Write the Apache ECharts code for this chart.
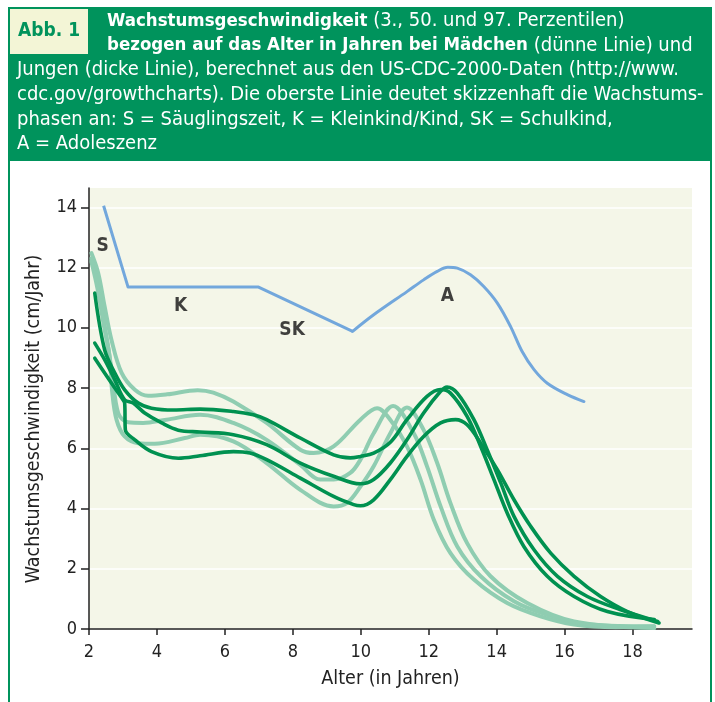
<!DOCTYPE html>
<html>
<head>
<meta charset="utf-8">
<script src="https://cdn.jsdelivr.net/npm/echarts@6/dist/echarts.min.js"></script>
<style>
  html, body { margin: 0; padding: 0; background: #fff; }
  #growthChart { width: 715px; height: 702px; }
</style>
</head>
<body>
<div id="growthChart"></div>
<script>
// Achsen-Ticks
const xTicks = [2, 4, 6, 8, 10, 12, 14, 16, 18];
const yTicks = [0, 2, 4, 6, 8, 10, 12, 14];

// Wachstumsphasen (blaue Linie), [Alter, cm/Jahr]
const phaseLine = [[2.43, 14.05], [3.15, 11.35], [6.99, 11.35], [9.76, 9.88]];
const phaseCurve = [
  [9.76, 9.88], [10.38, 10.43], [11.36, 11.2], [11.85, 11.59], [12.25, 11.87],
  [12.56, 12.01], [12.84, 11.98], [13.23, 11.76], [13.62, 11.37], [14.02, 10.82],
  [14.41, 10.04], [14.75, 9.21], [15.1, 8.61], [15.49, 8.16], [16.08, 7.78], [16.57, 7.55]
];
const phaseLabels = [["S", 2.4, 12.72], ["K", 4.7, 10.73], ["SK", 7.98, 9.93], ["A", 12.55, 11.06]];

// Mädchen (dünne Linie): 97., 50., 3. Perzentile
const girlP97 = [
  [2.07, 12.48], [2.27, 11.82], [2.46, 10.71], [2.66, 9.6], [2.96, 8.5], [3.35, 7.94],
  [3.74, 7.74], [4.3, 7.79], [5.2, 7.93], [5.66, 7.85], [6.25, 7.55], [7.23, 6.84],
  [8.22, 5.95], [8.61, 5.84], [9.2, 6.06], [9.99, 6.95], [10.48, 7.33], [10.9, 6.9],
  [11.36, 6.06], [11.76, 4.96], [12.15, 3.63], [12.64, 2.52], [13.33, 1.64],
  [14.31, 0.86], [15.29, 0.42], [16.28, 0.15], [17.5, 0.06], [18.63, 0.08]
];
const girlP50 = [
  [2.07, 12.3], [2.3, 11.2], [2.5, 9.8], [2.68, 8.5], [2.86, 7.17], [3.15, 6.86],
  [3.59, 6.84], [4.28, 6.95], [5.27, 7.11], [6.25, 6.84], [7.23, 6.28], [8.22, 5.45],
  [8.81, 4.96], [9.2, 4.96], [9.69, 5.18], [9.99, 5.62], [10.38, 6.5], [10.95, 7.4],
  [11.56, 6.5], [11.95, 5.4], [12.35, 4.07], [12.84, 2.74], [13.53, 1.75],
  [14.51, 0.92], [15.49, 0.47], [16.77, 0.14], [18.64, 0.09]
];
const girlP3 = [
  [2.07, 12.2], [2.25, 11.3], [2.45, 10.0], [2.6, 9.1], [2.68, 7.9], [2.81, 6.95],
  [3.05, 6.39], [3.45, 6.17], [3.94, 6.15], [4.82, 6.34], [5.27, 6.45], [6.25, 6.23],
  [7.23, 5.51], [8.22, 4.62], [9.2, 4.07], [9.59, 4.18], [9.99, 4.73], [10.38, 5.4],
  [10.87, 6.5], [11.36, 7.35], [11.85, 6.61], [12.25, 5.51], [12.64, 4.18],
  [13.13, 2.85], [13.82, 1.75], [14.9, 0.86], [16.28, 0.25], [18.64, 0.03]
];

// Jungen (dicke Linie): 97., 50., 3. Perzentile
const boyP97 = [
  [2.17, 11.15], [2.46, 9.27], [2.76, 8.5], [3.05, 7.94], [3.45, 7.5], [3.84, 7.33],
  [4.5, 7.27], [5.27, 7.3], [6.25, 7.22], [6.84, 7.11], [7.23, 6.95], [8.22, 6.34],
  [9.2, 5.78], [9.69, 5.68], [9.99, 5.73], [10.38, 5.84], [10.87, 6.2], [11.36, 6.95],
  [11.95, 7.72], [12.35, 7.95], [12.64, 7.83], [13.13, 7.06], [13.53, 6.06],
  [13.92, 4.96], [14.31, 3.85], [14.8, 2.74], [15.49, 1.75], [16.28, 1.08],
  [17.26, 0.58], [18.64, 0.31]
];
const boyP50 = [
  [2.17, 9.49], [2.46, 8.94], [2.76, 8.27], [3.05, 7.61], [3.3, 7.5], [3.64, 7.17],
  [4.14, 6.84], [4.63, 6.6], [5.27, 6.54], [6.25, 6.45], [7.23, 6.12], [8.22, 5.51],
  [9.2, 5.07], [9.99, 4.82], [10.38, 4.96], [10.87, 5.51], [11.36, 6.28], [11.85, 7.17],
  [12.35, 7.89], [12.54, 8.03], [12.84, 7.83], [13.33, 6.95], [13.72, 5.95],
  [14.12, 4.85], [14.51, 3.74], [15.1, 2.63], [15.79, 1.75], [16.67, 1.08],
  [17.65, 0.64], [18.74, 0.25]
];
const boyP3 = [
  [2.17, 8.99], [2.46, 8.5], [2.76, 8.0], [3.0, 7.61], [3.05, 7.5], [3.07, 6.61],
  [3.35, 6.28], [3.84, 5.89], [4.63, 5.67], [5.27, 5.75], [6.25, 5.89], [6.74, 5.84],
  [7.23, 5.62], [8.22, 5.01], [9.2, 4.4], [9.79, 4.13], [9.99, 4.09], [10.38, 4.29],
  [10.87, 4.96], [11.36, 5.73], [11.85, 6.39], [12.35, 6.84], [12.79, 6.95],
  [13.13, 6.78], [13.53, 6.17], [14.02, 5.29], [14.51, 4.29], [15.0, 3.41],
  [15.59, 2.52], [16.28, 1.75], [17.06, 1.08], [17.85, 0.58], [18.78, 0.2]
];

const FONT = "'DejaVu Sans Condensed', 'Liberation Sans Narrow', 'Noto Sans', sans-serif";
const GREEN = "#00935c";
const BOY = "#009150";
const GIRL = "#8fcdb1";
const BLUE = "#72a7dc";

const myChart = echarts.init(document.getElementById("growthChart"));

function curve(data, color, width) {
  return {
    type: "line",
    data: data,
    smooth: 0.35,
    symbol: "none",
    silent: true,
    lineStyle: { color: color, width: width, cap: "round", join: "round" }
  };
}

const headerLines = [
  "{b|Wachstumsgeschwindigkeit} (3., 50. und 97. Perzentilen)",
  "{b|bezogen auf das Alter in Jahren bei Mädchen} (dünne Linie) und",
  "Jungen (dicke Linie), berechnet aus den US-CDC-2000-Daten (http://www.",
  "cdc.gov/growthcharts). Die oberste Linie deutet skizzenhaft die Wachstums-",
  "phasen an: S = Säuglingszeit, K = Kleinkind/Kind, SK = Schulkind,",
  "A = Adoleszenz"
];
const headerX = [107, 107, 17, 17, 17, 17];

const graphics = [
  { type: "rect", shape: { x: 8, y: 7, width: 704, height: 154 }, style: { fill: GREEN }, z: -10 },
  { type: "rect", shape: { x: 10, y: 9, width: 78, height: 45 }, style: { fill: "#f3f5d6" } },
  {
    type: "text", x: 18, y: 31,
    style: { text: "Abb. 1", fill: GREEN, font: "bold 19px " + FONT, verticalAlign: "middle" }
  },
  // Rahmen links/rechts
  { type: "line", shape: { x1: 9, y1: 160, x2: 9, y2: 702 }, style: { stroke: GREEN, lineWidth: 2 } },
  { type: "line", shape: { x1: 711, y1: 160, x2: 711, y2: 702 }, style: { stroke: GREEN, lineWidth: 2 } }
];
headerLines.forEach(function (t, i) {
  graphics.push({
    type: "text",
    x: headerX[i],
    y: 21 + i * 24.6,
    style: {
      text: t,
      fill: "#fff",
      font: "20px " + FONT,
      verticalAlign: "middle",
      rich: { b: { fontWeight: "bold", fontSize: 18.5, fontFamily: FONT, fill: "#fff" } }
    }
  });
});

const option = {
  animation: false,
  backgroundColor: "#fff",
  textStyle: { fontFamily: FONT },
  graphic: graphics,
  grid: {
    left: 89, right: 23, top: 188, bottom: 73,
    show: true, backgroundColor: "#f4f6e8", borderWidth: 0
  },
  xAxis: {
    type: "value",
    min: 2,
    max: 19.75,
    interval: 2,
    name: "Alter (in Jahren)",
    nameLocation: "middle",
    nameGap: 40,
    nameTextStyle: { color: "#222", fontSize: 19.5, fontFamily: FONT },
    axisLine: { lineStyle: { color: "#222", width: 1.5 } },
    axisTick: { show: true, length: 6, customValues: xTicks, lineStyle: { color: "#222", width: 1.5 } },
    axisLabel: { customValues: xTicks, color: "#222", fontSize: 18, margin: 14, fontFamily: FONT },
    splitLine: { show: false }
  },
  yAxis: {
    type: "value",
    min: 0,
    max: 14.64,
    interval: 2,
    name: "Wachstumsgeschwindigkeit (cm/Jahr)",
    nameLocation: "middle",
    nameGap: 45,
    nameTextStyle: { color: "#222", fontSize: 19.5, fontFamily: FONT, padding: [0, 21, 0, 0] },
    axisLine: { show: true, lineStyle: { color: "#222", width: 1.5 } },
    axisTick: { show: true, length: 8, customValues: yTicks, lineStyle: { color: "#222", width: 1.5 } },
    axisLabel: { customValues: yTicks, color: "#222", fontSize: 18, margin: 12, fontFamily: FONT },
    splitLine: { show: true, lineStyle: { color: "#ffffff", width: 1.5 } }
  },
  series: [
    curve(girlP97, GIRL, 4),
    curve(girlP50, GIRL, 4),
    curve(girlP3, GIRL, 4),
    curve(boyP97, BOY, 3.6),
    curve(boyP50, BOY, 3.6),
    curve(boyP3, BOY, 3.6),
    {
      type: "line", data: phaseLine, smooth: false, symbol: "none", silent: true,
      lineStyle: { color: BLUE, width: 3, join: "round" }
    },
    curve(phaseCurve, BLUE, 3),
    {
      type: "scatter",
      symbolSize: 0,
      silent: true,
      data: phaseLabels.map(function (p) { return { name: p[0], value: [p[1], p[2]] }; }),
      label: {
        show: true,
        position: "inside",
        formatter: "{b}",
        color: "#111",
        fontSize: 19,
        fontWeight: "bold",
        fontFamily: FONT
      }
    }
  ]
};

myChart.setOption(option);
</script>
</body>
</html>
